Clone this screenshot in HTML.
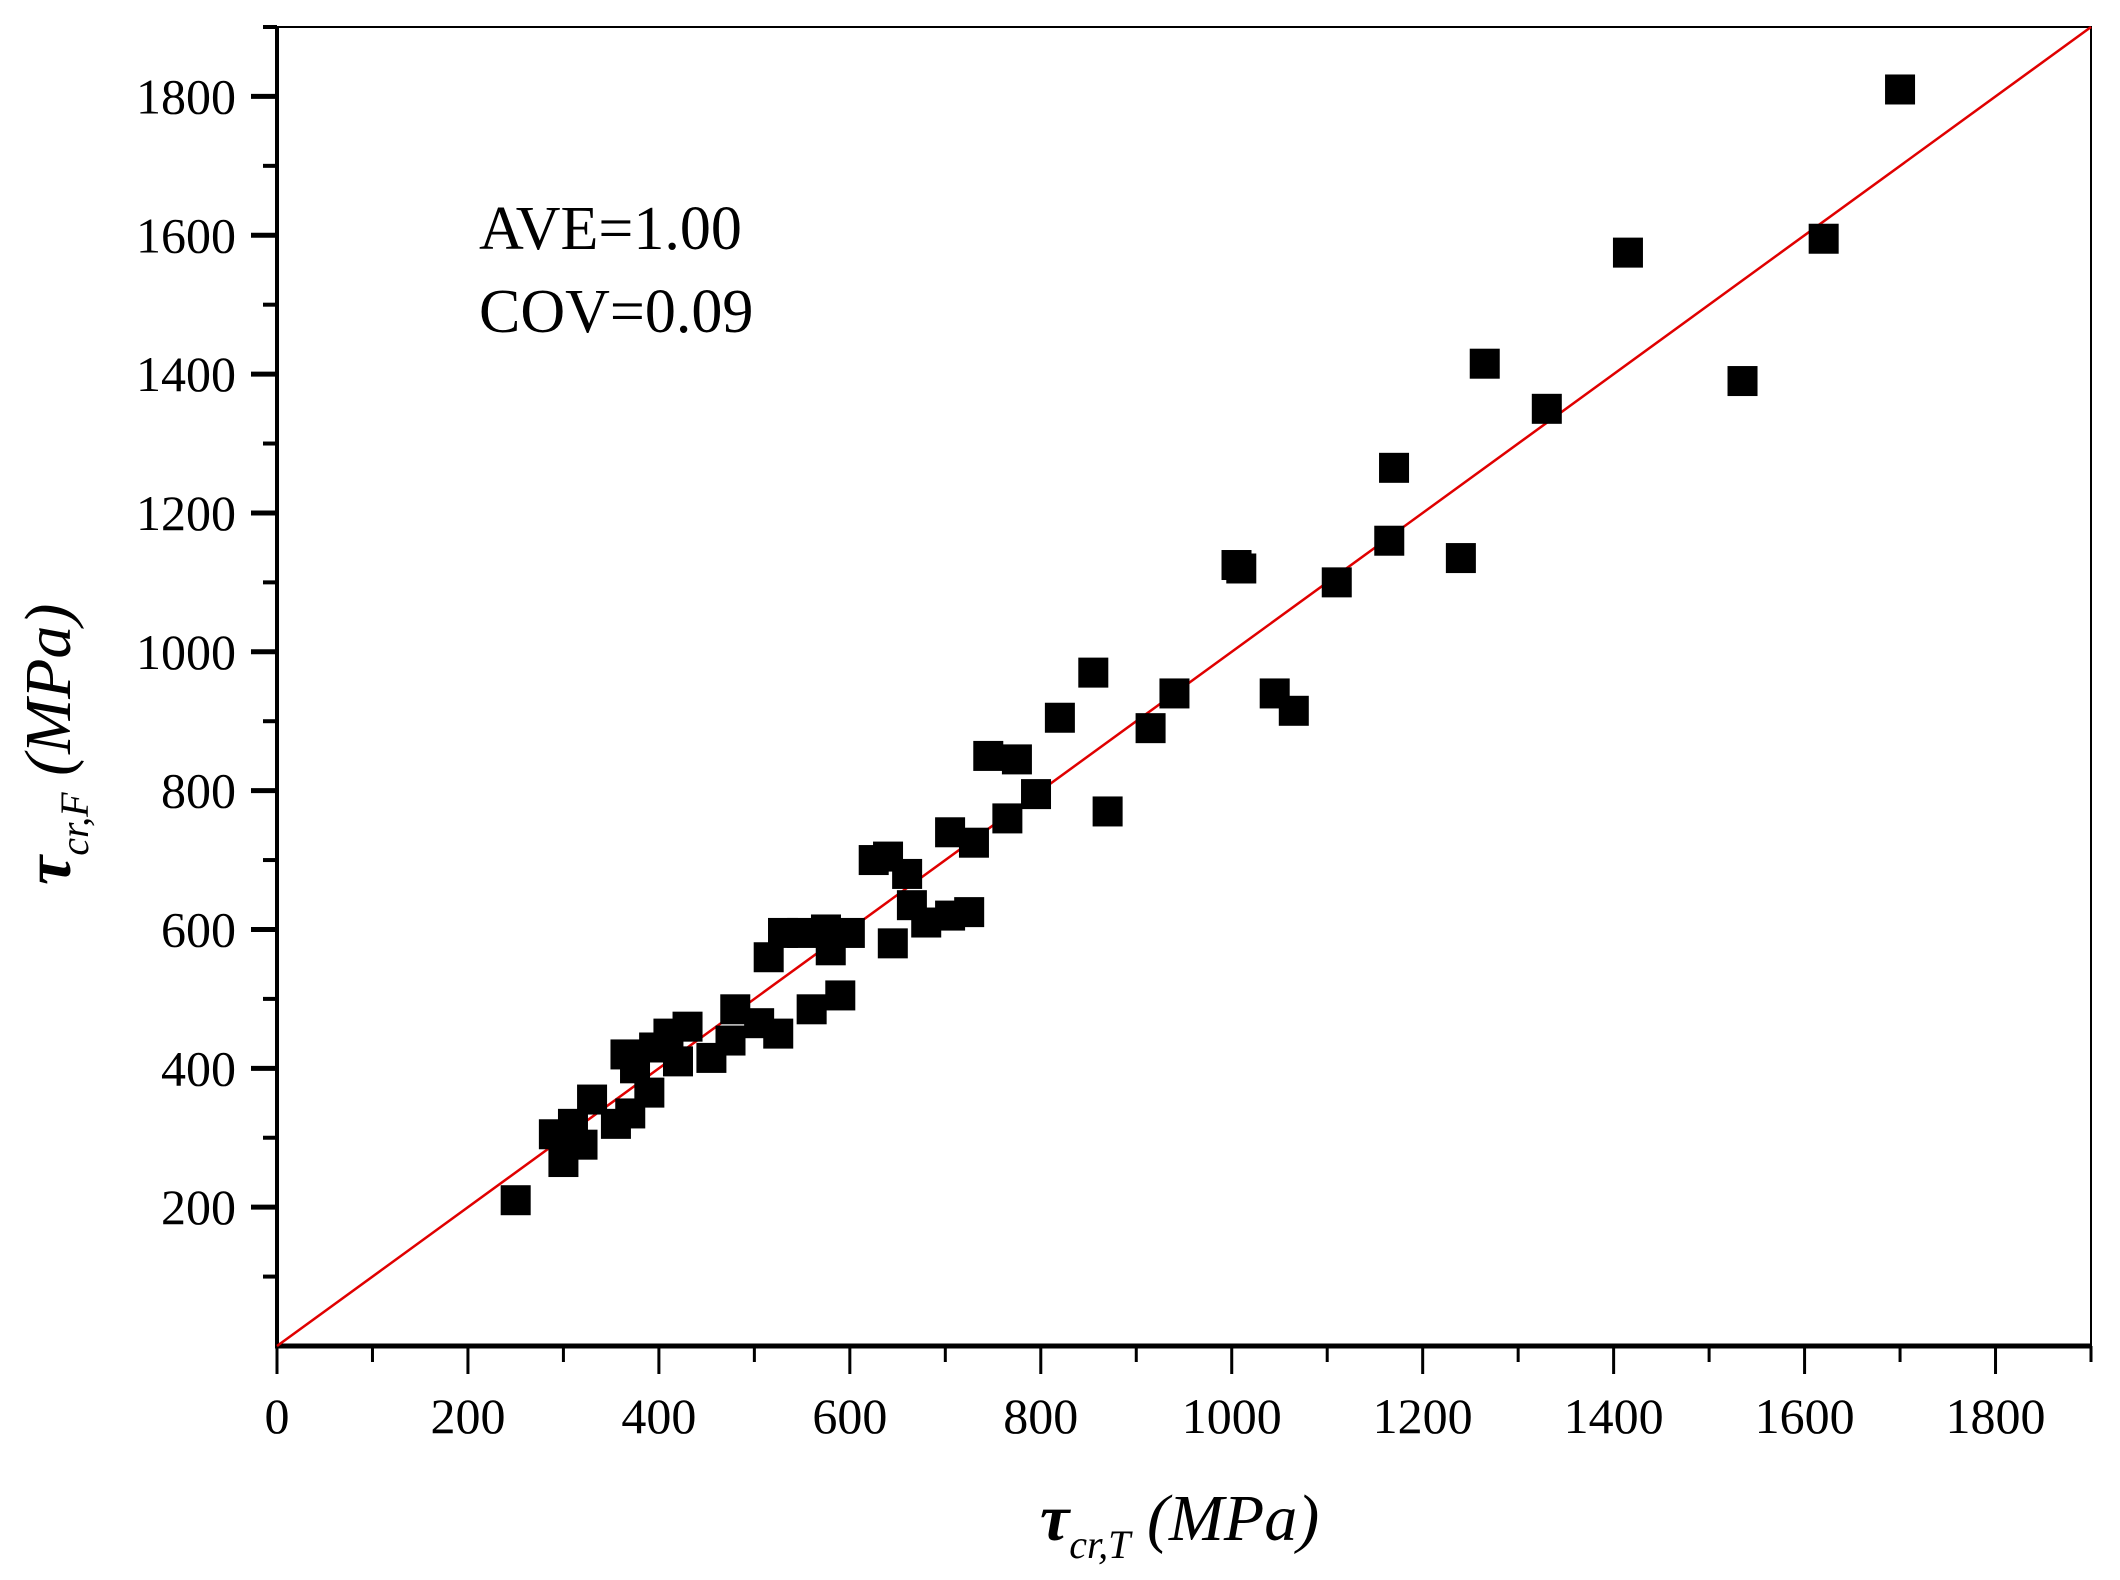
<!DOCTYPE html>
<html><head><meta charset="utf-8"><style>
html,body{margin:0;padding:0;background:#fff;}
svg{display:block;font-family:"Liberation Serif",serif;}
</style></head><body>
<svg id="chart" width="2120" height="1580" viewBox="0 0 2120 1580" xmlns="http://www.w3.org/2000/svg">
<g id="plot"></g>
</svg>
<script>
const xVals=[250,290,300,310,320,330,355,365,370,375,390,395,410,420,430,455,475,480,505,515,525,530,550,560,575,580,590,600,625,640,645,660,665,680,705,705,725,730,745,765,775,795,820,855,870,915,940,1005,1010,1045,1065,1110,1165,1170,1240,1265,1330,1415,1535,1620,1700];
const yVals=[210,305,265,320,290,355,320,420,335,400,365,430,450,410,460,415,440,485,465,560,450,595,595,485,600,570,505,595,700,705,580,680,635,610,740,620,625,725,850,760,845,795,905,970,770,890,940,1125,1120,940,915,1100,1160,1265,1135,1415,1350,1575,1390,1595,1810];
const xTicks=[0,200,400,600,800,1000,1200,1400,1600,1800];
const yTicks=[200,400,600,800,1000,1200,1400,1600,1800];
const NS="http://www.w3.org/2000/svg";
const X0=277,X1=2091,Y0=1346,Y1=27,DMAX=1900;
const sx=v=>X0+(X1-X0)*v/DMAX;
const sy=v=>Y0-(Y0-Y1)*v/DMAX;
const g=document.getElementById('plot');
function mk(tag,attrs,parent){const e=document.createElementNS(NS,tag);for(const k in attrs)e.setAttribute(k,attrs[k]);(parent||g).appendChild(e);return e;}
let fr=mk('rect',{x:X0,y:Y1,width:X1-X0,height:Y0-Y1,fill:'none',stroke:'#000','stroke-width':2});


let ya=mk('line',{x1:X0,y1:Y1,x2:X0,y2:Y0+2,stroke:'#000','stroke-width':4});


let xa=mk('line',{x1:X0-2,y1:Y0,x2:X1,y2:Y0,stroke:'#000','stroke-width':5});


for(let v=0;v<=DMAX;v+=100){
  const major=v%200===0;
  let t=mk('line',{x1:sx(v),y1:Y0,x2:sx(v),y2:Y0+(major?28:16),stroke:'#000','stroke-width':3});
  
  
}
xTicks.forEach(v=>{
  let t=mk('text',{x:sx(v),y:1433,'text-anchor':'middle','font-size':50});
  t.textContent=v;
  
  
});
for(let v=100;v<=DMAX;v+=100){
  const major=v%200===0;
  let t=mk('line',{x1:X0,y1:sy(v),x2:X0-(major?26:14),y2:sy(v),stroke:'#000','stroke-width':major?5:4});
  
  
}
yTicks.forEach(v=>{
  let t=mk('text',{x:236,y:sy(v)+17,'text-anchor':'end','font-size':50});
  t.textContent=v;
  
  
});
let rl=mk('line',{x1:sx(0),y1:sy(0),x2:sx(DMAX),y2:sy(DMAX),stroke:'#e00000','stroke-width':2.5});


const S=30;
xVals.forEach((xv,i)=>{
  let r=mk('rect',{x:sx(xv)-S/2,y:sy(yVals[i])-S/2,width:S,height:S,fill:'#000'});
  
  
});
</script>
<svg style="position:absolute;left:0;top:0" width="2120" height="1580">
<text x="479" y="249" font-family="Liberation Serif,serif" font-size="62">AVE=1.00</text>
<text x="479" y="332" font-family="Liberation Serif,serif" font-size="62">COV=0.09</text>
<text x="1040" y="1540" font-family="Liberation Serif,serif" font-size="66" font-style="italic"><tspan font-weight="bold">τ</tspan><tspan font-size="40" dy="18">cr,T</tspan><tspan dy="-18"> (MPa)</tspan></text>
<text transform="translate(70,885) rotate(-90)" font-family="Liberation Serif,serif" font-size="66" font-style="italic"><tspan font-weight="bold">τ</tspan><tspan font-size="40" dy="18">cr,F</tspan><tspan dy="-18"> (MPa)</tspan></text>
</svg>
</body></html>
